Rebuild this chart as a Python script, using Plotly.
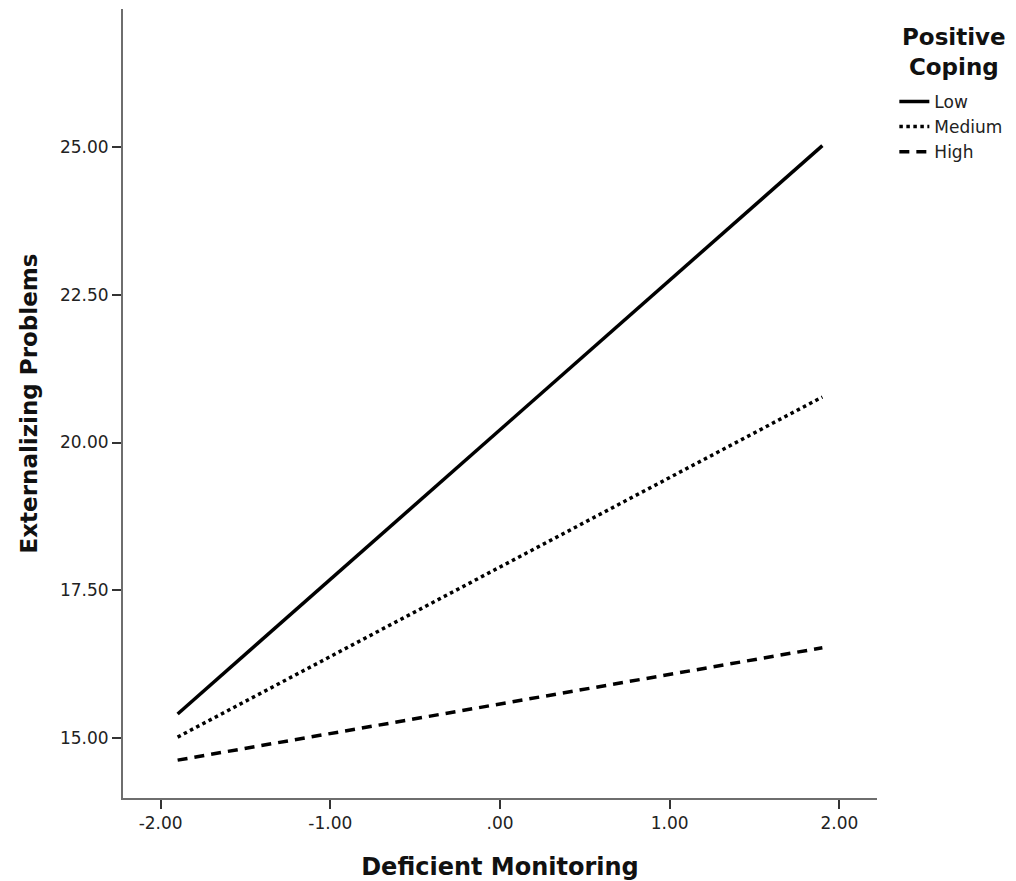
import plotly.graph_objects as go

x_vals = [-1.9, 1.9]
low = [15.41, 25.02]
medium = [15.02, 20.77]
high = [14.63, 16.53]
series_names = ["Low", "Medium", "High"]
x_ticks = [-2, -1, 0, 1, 2]
x_ticklabels = ["-2.00", "-1.00", ".00", "1.00", "2.00"]
y_ticks = [15, 17.5, 20, 22.5, 25]
y_ticklabels = ["15.00", "17.50", "20.00", "22.50", "25.00"]
legend_title = "Positive<br>Coping"

FONT = "DejaVu Sans"
fig = go.Figure()
styles = {"Low": "solid", "Medium": "dot", "High": "10px,7px"}
for name, vals in zip(series_names, [low, medium, high]):
    fig.add_trace(go.Scatter(x=x_vals, y=vals, mode="lines", name=name,
                             line=dict(color="black", width=3.5, dash=styles[name])))

axis_common = dict(showline=True, linecolor="#6e6e6e", linewidth=2, ticks="outside",
                   tickcolor="#333", ticklen=9, tickwidth=2, showgrid=False, zeroline=False,
                   tickfont=dict(family=FONT, size=17, color="#222"))
fig.update_xaxes(range=[-2.222, 2.222], tickvals=x_ticks, ticktext=x_ticklabels,
                 title=dict(text="<b>Deficient Monitoring</b>", font=dict(family=FONT, size=24, color="#111"), standoff=26),
                 **axis_common)
fig.update_yaxes(range=[13.99, 27.33], tickvals=y_ticks, ticktext=y_ticklabels,
                 title=dict(text="<b>Externalizing Problems</b>", font=dict(family=FONT, size=23, color="#111"), standoff=16),
                 **axis_common)
fig.add_annotation(text="<b>" + legend_title + "</b>", xref="paper", yref="paper",
                   x=1.102, y=0.9835, xanchor="center", yanchor="top", align="center",
                   showarrow=False, font=dict(family=FONT, size=23, color="#111"))
fig.update_layout(
    width=1016, height=881, plot_bgcolor="white", paper_bgcolor="white",
    margin=dict(l=115, r=147, t=1, b=91),
    legend=dict(x=1.023, y=0.905, xanchor="left", yanchor="top",
                font=dict(family=FONT, size=17, color="#222"),
                itemwidth=30, tracegroupgap=0, bgcolor="rgba(0,0,0,0)"),
)
fig.write_html("out.html")
